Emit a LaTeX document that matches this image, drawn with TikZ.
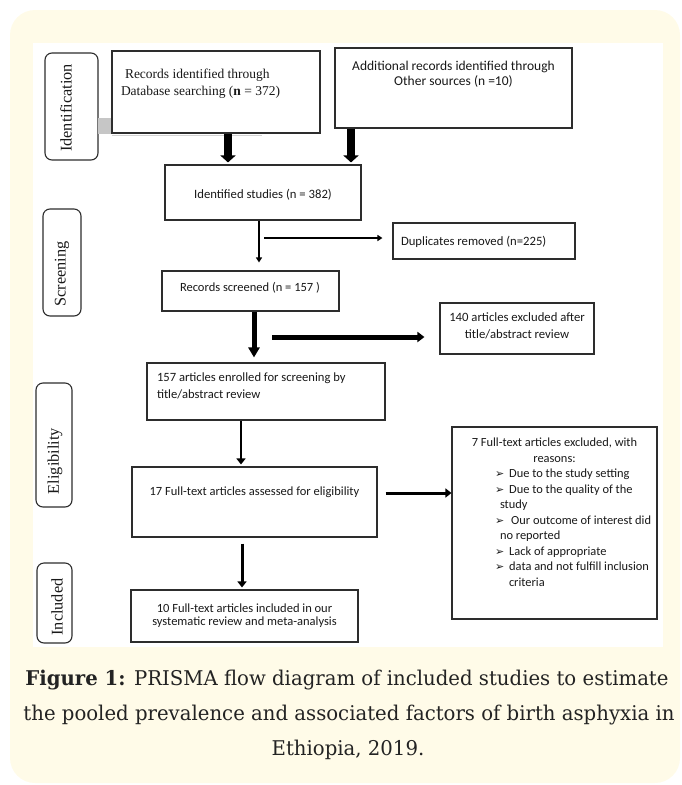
\documentclass[tikz,border=0pt]{standalone}
\usepackage{fontspec}
\setmainfont{Carlito}
\newfontfamily\timesf{Liberation Serif}
\newfontfamily\capf[FakeStretch=0.97]{DejaVu Serif}
\newfontfamily\symf{DejaVu Sans}
\usetikzlibrary{arrows.meta,calc}
\definecolor{bgy}{RGB}{255,251,232}
\definecolor{ln}{RGB}{45,45,45}
\definecolor{tx}{RGB}{25,25,25}
\definecolor{capc}{RGB}{35,35,35}
\newcommand\pbx[4]{\parbox[c][#2pt][t]{#1pt}{\vspace*{#3pt}#4\par}}
\newcommand\blt{{\symf\fontsize{11}{12}\selectfont ➢}}
\begin{document}
\begin{tikzpicture}[x=1pt,y=-1pt,
  box/.style={draw=ln,line width=1.1pt,inner sep=0pt,fill=white,text=tx},
  side/.style={draw=ln,line width=1.1pt,rounded corners=7pt,inner sep=0pt,fill=white},
  sidetxt/.style={rotate=90,inner sep=0pt,text=tx,font=\timesf\fontsize{16.3}{18}\selectfont},
  arrA/.style={draw=black,line width=8pt,-{Triangle[width=15pt,length=7pt]}},
  arrB/.style={draw=black,line width=1.6pt,-{Triangle[width=6pt,length=5pt]}},
  arrC/.style={draw=black,line width=5pt,-{Triangle[width=11pt,length=10pt]}},
  arrD/.style={draw=black,line width=5pt,-{Triangle[width=10pt,length=7pt]}},
  arrE/.style={draw=black,line width=2.6pt,-{Triangle[width=9pt,length=6pt]}},
  captxt/.style={inner sep=0pt,text=capc,font=\capf\fontsize{20.3}{24}\selectfont,anchor=base}
]
\useasboundingbox (0,0) rectangle (682,785);
% background panel
\path[fill=bgy,rounded corners=25pt] (10,10) rectangle (680,783);
\fill[white] (33,43) rectangle (663,647);

% side labels
\node[side,minimum width=53pt,minimum height=107pt] (idl) at (71.5,106.5) {};
\node[sidetxt] (idlt) at (66,108) {Identification};
\node[side,minimum width=38pt,minimum height=107pt] (scl) at (62,262.5) {};
\node[sidetxt] (sclt) at (62,274) {Screening};
\node[side,minimum width=36pt,minimum height=124pt] (ell) at (54,445) {};
\node[sidetxt] (ellt) at (55,461) {Eligibility};
\node[side,minimum width=35pt,minimum height=80pt] (inl) at (54.5,603) {};
\node[sidetxt] (inlt) at (57,607) {Included};

% grey artefact behind first box
\fill[gray!45] (98,118) rectangle (113,134);
\draw[gray!35,line width=1pt] (112,135) -- (262,135);

% boxes
\node[box] (rec) at (216,92) {\pbx{208}{82}{17.5}{\timesf\fontsize{13.5}{17}\selectfont\raggedright\leftskip=9pt\hspace*{4pt}Records identified through\\Database searching (\textbf{n} = 372)}};
\node[box] (add) at (453.5,88) {\pbx{237}{80}{13.5}{\fontsize{13.5}{15}\selectfont\centering Additional records identified through\\Other sources (n =10)}};
\node[box] (ident) at (263,192.5) {\pbx{196}{55}{24}{\fontsize{12.7}{14}\selectfont\centering Identified studies (n = 382)}};
\node[box] (dup) at (484,241) {\pbx{182}{36}{13}{\fontsize{12.7}{15}\selectfont\raggedright\leftskip=8pt Duplicates removed (n=225)}};
\node[box] (scr) at (250.5,291) {\pbx{177}{40}{11}{\fontsize{12.5}{14}\selectfont\raggedright\leftskip=18pt Records screened (n = 157 )}};
\node[box] (exa) at (517,328.5) {\pbx{154}{51}{10}{\fontsize{12.7}{17}\selectfont\centering 140 articles excluded after\\title/abstract review}};
\node[box] (enr) at (266,391.5) {\pbx{238}{57}{10}{\fontsize{12.6}{17}\selectfont\raggedright\leftskip=10pt 157 articles enrolled for screening by\\title/abstract review}};
\node[box] (fta) at (254.5,502) {\pbx{245}{70}{20}{\fontsize{12.5}{14}\selectfont\centering 17 Full-text articles assessed for eligibility}};
\node[box] (ftx) at (554.5,523) {\pbx{205}{192}{11}{\fontsize{12.4}{15.5}\selectfont
  \centering 7 Full-text articles excluded, with\\reasons:\par
  \raggedright
  \hspace*{43pt}\blt\hspace{5pt}Due to the study setting\\
  \hspace*{43pt}\blt\hspace{5pt}Due to the quality of the\\
  \hspace*{48pt}study\\
  \hspace*{43pt}\blt\hspace{7pt}Our outcome of interest did\\
  \hspace*{48pt}no reported\\
  \hspace*{43pt}\blt\hspace{5pt}Lack of appropriate\\
  \hspace*{43pt}\blt\hspace{5pt}data and not fulfill inclusion\\
  \hspace*{57pt}criteria}};
\node[box] (fti) at (244.5,616) {\pbx{227}{52}{14}{\fontsize{12.5}{13}\selectfont\centering 10 Full-text articles included in our\\systematic review and meta-analysis}};

% connector helper coordinates
\coordinate (x1) at (228,0);
\coordinate (x2) at (351,0);
\coordinate (x3) at (259,0);
\coordinate (h1) at (264,238);
\coordinate (x5) at (254,0);
\coordinate (h2) at (272,337);
\coordinate (x7) at (241,0);
\coordinate (y8) at (0,493);
\coordinate (x9) at (242,0);

% connectors
\draw[arrA,shorten >=2pt] (rec.south -| x1) -- (ident.north -| x1);
\draw[arrA,shorten >=2pt] (add.south -| x2) -- (ident.north -| x2);
\draw[arrB,shorten >=8pt] (ident.south -| x3) -- (scr.north -| x3);
\draw[arrB,line width=1.4pt,shorten >=10pt] (h1) -- (dup.west |- h1);
\draw[arrC,shorten >=5pt] (scr.south -| x5) -- (enr.north -| x5);
\draw[arrD,shorten >=15pt] (h2) -- (exa.west |- h2);
\draw[arrE,line width=2.4pt,shorten >=2pt] (enr.south -| x7) -- (fta.north -| x7);
\draw[arrE,line width=3pt,shorten <=8pt] (fta.east |- y8) -- (ftx.west |- y8);
\draw[arrE,line width=3pt,shorten <=6pt,shorten >=2pt] (fta.south -| x9) -- (fti.north -| x9);

% caption
\node[captxt] (cap1) at (347,685) {\textbf{Figure 1:} PRISMA flow diagram of included studies to estimate};
\node[captxt] (cap2) at (349,720) {the pooled prevalence and associated factors of birth asphyxia in};
\node[captxt] (cap3) at (348,755) {Ethiopia, 2019.};
\end{tikzpicture}
\end{document}
